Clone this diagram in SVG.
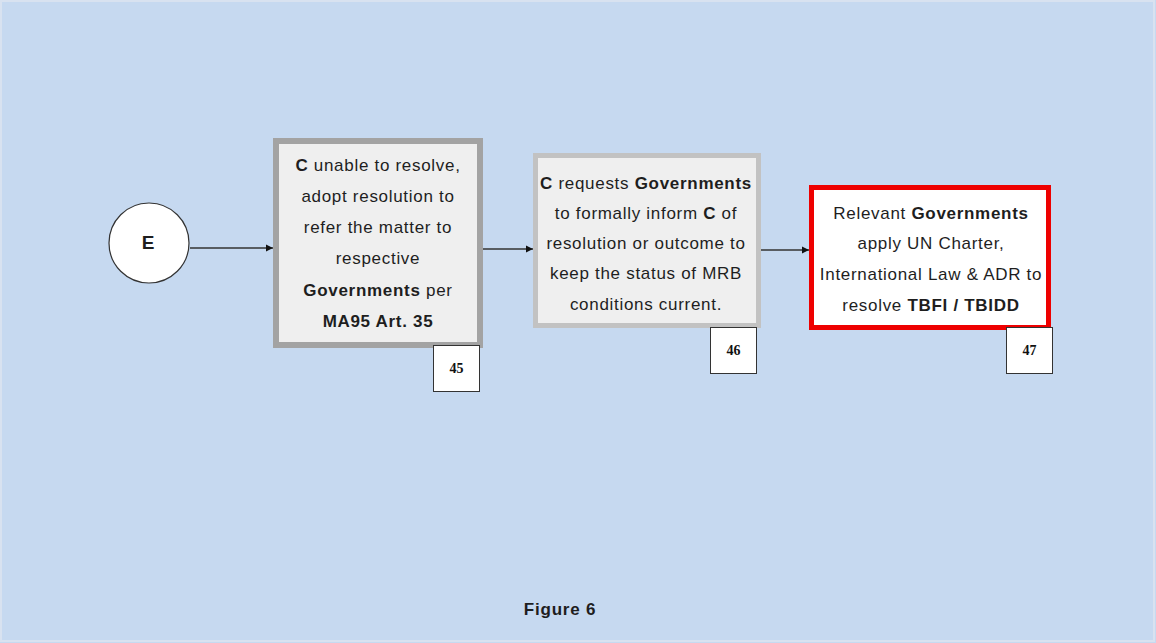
<svg xmlns="http://www.w3.org/2000/svg" width="1156" height="643" viewBox="0 0 1156 643">
  <style>
    .txt { font-family: "Liberation Sans", Arial, sans-serif; font-size: 17px; letter-spacing: 0.7px; fill: #1e1e1e; text-anchor: middle; }
    .b { font-weight: bold; }
    .num { font-family: "Liberation Serif", "Times New Roman", serif; font-size: 14px; font-weight: bold; fill: #111; text-anchor: middle; }
    .tag { fill: #ffffff; stroke: #333333; stroke-width: 1; }
    .conn { stroke: #333333; stroke-width: 1.3; fill: none; marker-end: url(#arr); }
  </style>
  <defs>
    <marker id="arr" markerWidth="8" markerHeight="8" refX="7" refY="4" orient="auto" markerUnits="userSpaceOnUse">
      <path d="M0,0.5 L7,4 L0,7.5 Z" fill="#111111"/>
    </marker>
  </defs>

  <!-- page background -->
  <rect x="0" y="0" width="1156" height="643" fill="#c6d9f0"/>
  <rect x="1" y="1" width="1153" height="640" fill="none" stroke="#d8e2f0" stroke-width="2"/>

  <!-- connectors -->
  <g id="connectors">
    <line class="conn" x1="190" y1="248" x2="273" y2="248"/>
    <line class="conn" x1="483" y1="249" x2="533" y2="249"/>
    <line class="conn" x1="761" y1="250" x2="809" y2="250"/>
  </g>

  <!-- start event E -->
  <g id="node-E">
    <circle cx="149" cy="243" r="40" fill="#ffffff" stroke="#333333" stroke-width="1.2"/>
    <text x="148" y="249" class="txt b" style="font-size:19px;letter-spacing:0">E</text>
  </g>

  <!-- step 45 -->
  <g id="node-45">
    <rect x="276" y="141" width="204" height="204" fill="#efefef" stroke="#a3a3a3" stroke-width="6"/>
    <text class="txt" x="378" y="171"><tspan class="b">C</tspan> unable to resolve,</text>
    <text class="txt" x="378" y="202">adopt resolution to</text>
    <text class="txt" x="378" y="233">refer the matter to</text>
    <text class="txt" x="378" y="264">respective</text>
    <text class="txt" x="378" y="296"><tspan class="b">Governments</tspan> per</text>
    <text class="txt b" x="378" y="327">MA95 Art. 35</text>
    <rect class="tag" x="433.5" y="345.5" width="46" height="46"/>
    <text class="num" x="456.5" y="373">45</text>
  </g>

  <!-- step 46 -->
  <g id="node-46">
    <rect x="535.5" y="155.5" width="223" height="170" fill="#efefef" stroke="#c2c2c2" stroke-width="5"/>
    <text class="txt" x="646" y="189"><tspan class="b">C</tspan> requests <tspan class="b">Governments</tspan></text>
    <text class="txt" x="646" y="219">to formally inform <tspan class="b">C</tspan> of</text>
    <text class="txt" x="646" y="249">resolution or outcome to</text>
    <text class="txt" x="646" y="279">keep the status of MRB</text>
    <text class="txt" x="646" y="310">conditions current.</text>
    <rect class="tag" x="710.5" y="327.5" width="46" height="46"/>
    <text class="num" x="733.5" y="355">46</text>
  </g>

  <!-- step 47 -->
  <g id="node-47">
    <rect x="811.5" y="187.5" width="237" height="140" fill="#ffffff" stroke="#ee0000" stroke-width="5"/>
    <text class="txt" x="931" y="219">Relevant <tspan class="b">Governments</tspan></text>
    <text class="txt" x="931" y="249">apply UN Charter,</text>
    <text class="txt" x="931" y="280">International Law &amp; ADR to</text>
    <text class="txt" x="931" y="311">resolve <tspan class="b">TBFI / TBIDD</tspan></text>
    <rect class="tag" x="1006.5" y="327.5" width="46" height="46"/>
    <text class="num" x="1029.5" y="355">47</text>
  </g>

  <!-- caption -->
  <text class="txt b" x="560" y="615" style="letter-spacing:0.8px">Figure 6</text>
</svg>
